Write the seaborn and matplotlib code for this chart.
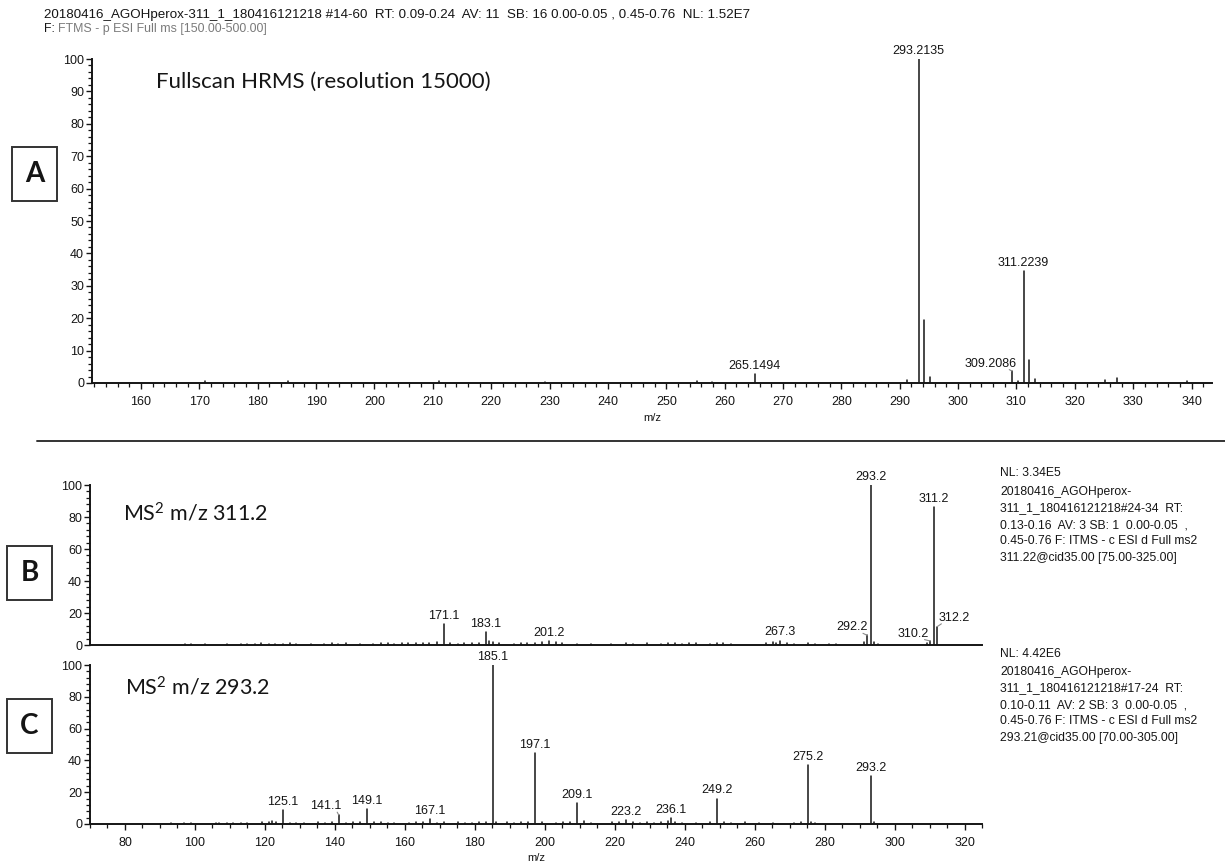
import numpy as np
import pandas as pd
import seaborn as sns
import matplotlib.pyplot as plt
from matplotlib.ticker import MultipleLocator
from matplotlib.patches import Rectangle
from matplotlib.lines import Line2D

# ======================== data ========================
# A: full scan HRMS, labelled peaks
a_mz = [265.1494, 293.2135, 309.2086, 311.2239]
a_int = [2.7, 100.0, 3.7, 34.6]
a_txt = ["265.1494", "293.2135", "309.2086", "311.2239"]
# A: unlabelled peaks
a_mz_other = [171.0, 185.1, 211.1, 229.2, 255.2, 257.9, 291.2, 294.2168, 295.2, 310.2,
              312.2273, 313.2, 325.2, 327.2, 339.2]
a_int_other = [0.6, 0.5, 0.5, 0.4, 0.5, 0.4, 0.8, 19.4, 1.8, 0.6,
               7.1, 1.2, 1.0, 1.6, 0.5]

# B: MS2 of m/z 311.2
b_mz = [171.1, 183.1, 201.2, 267.3, 292.2, 293.2, 310.2, 311.2, 312.2]
b_int = [13.0, 8.3, 2.6, 2.8, 6.0, 100.0, 2.5, 86.0, 11.5]
b_txt = ["171.1", "183.1", "201.2", "267.3", "292.2", "293.2", "310.2", "311.2", "312.2"]
b_mz_other = [97.1, 98.9, 103.0, 109.1, 113.1, 115.0, 117.1, 119.0, 121.1, 123.0,
              125.1, 127.1, 129.0, 133.1, 137.0, 139.1, 141.0, 143.1, 147.1, 151.0,
              153.1, 155.1, 157.0, 159.1, 161.0, 163.1, 165.1, 167.0, 169.1, 173.0,
              175.1, 177.0, 179.1, 181.1, 184.1, 185.1, 187.0, 191.1, 193.1, 195.0,
              197.1, 199.1, 203.1, 205.0, 209.1, 213.1, 219.0, 223.1, 225.1, 229.1,
              233.2, 235.1, 237.1, 239.2, 241.1, 243.1, 247.2, 249.2, 251.1, 253.2,
              263.2, 265.2, 266.2, 269.2, 271.2, 275.2, 277.2, 281.2, 283.2, 291.2,
              294.2, 295.2, 309.2]
b_int_other = [0.8, 0.7, 0.6, 0.7, 0.9, 0.8, 0.6, 1.0, 0.8, 0.7,
               0.9, 1.1, 0.7, 0.6, 0.9, 1.0, 0.8, 1.2, 0.9, 0.7,
               1.1, 1.3, 0.9, 1.4, 1.0, 1.2, 1.5, 1.3, 1.8, 1.1,
               0.9, 1.2, 1.0, 1.4, 2.6, 2.0, 1.1, 0.8, 1.2, 1.5,
               1.3, 1.6, 1.9, 1.2, 0.9, 0.7, 0.8, 1.1, 0.9, 1.0,
               0.8, 1.2, 1.0, 0.9, 1.3, 1.1, 0.9, 1.0, 1.2, 0.8,
               1.3, 1.6, 1.1, 1.4, 0.9, 1.2, 0.8, 0.7, 0.9, 1.8,
               1.6, 0.9, 1.0]

# C: MS2 of m/z 293.2
c_mz = [125.1, 141.1, 149.1, 167.1, 185.1, 197.1, 209.1, 223.2, 236.1, 249.2, 275.2, 293.2]
c_int = [9.0, 5.7, 9.2, 3.0, 100.0, 44.7, 13.0, 2.5, 4.0, 16.0, 37.0, 30.0]
c_txt = ["125.1", "141.1", "149.1", "167.1", "185.1", "197.1", "209.1", "223.2",
         "236.1", "249.2", "275.2", "293.2"]
c_mz_other = [93.1, 97.0, 98.9, 106.1, 107.0, 109.1, 111.0, 113.1, 115.0, 119.1,
              121.1, 122.1, 123.1, 127.1, 129.0, 131.1, 135.1, 137.1, 139.1, 143.1,
              145.1, 147.1, 151.1, 153.1, 155.1, 157.0, 161.1, 163.1, 165.1, 169.1,
              171.1, 175.1, 177.1, 179.1, 181.1, 183.1, 186.1, 189.1, 191.1, 193.1,
              195.1, 199.1, 203.1, 205.1, 207.1, 211.1, 213.1, 219.1, 221.1, 225.1,
              227.1, 229.1, 231.1, 233.1, 235.1, 237.1, 239.1, 243.1, 247.2, 251.2,
              253.2, 257.2, 261.2, 265.2, 271.2, 273.2, 276.2, 277.2, 294.2]
c_int_other = [0.6, 0.9, 0.7, 0.8, 0.7, 0.6, 0.8, 0.7, 0.6, 1.0,
               1.4, 1.6, 1.2, 0.9, 0.8, 0.7, 1.0, 0.9, 1.1, 0.8,
               1.0, 1.3, 1.2, 1.0, 0.8, 0.7, 0.9, 1.1, 1.4, 0.8,
               1.0, 1.2, 0.9, 0.8, 1.1, 1.3, 1.5, 1.0, 0.9, 1.2,
               1.1, 1.0, 0.8, 1.0, 1.2, 1.8, 0.9, 1.1, 1.0, 1.2,
               0.9, 1.0, 0.8, 1.1, 1.6, 1.3, 0.8, 0.9, 1.5, 1.1,
               0.8, 1.0, 0.7, 0.8, 0.9, 1.2, 1.4, 0.9, 1.1]

# ======================== style ========================
sns.set_theme(style="ticks")
plt.rcParams["font.family"] = ["Liberation Sans", "DejaVu Sans"]
plt.rcParams["mathtext.fontset"] = "custom"
plt.rcParams["mathtext.rm"] = "Lato"
plt.rcParams["mathtext.it"] = "Lato:italic"

INK = "#151515"
LAB_FS = 9.0
TICK_FS = 9.0
INFO_FS = 8.7
TITLE_FONT = "Lato"

# label shifts (points) for peaks that use a leader line
LEADERS = {
    "309.2086": (-15, 1),
    "292.2": (-11, 1.5),
    "310.2": (-12, 1),
    "312.2": (12, 2),
    "141.1": (-9, 2),
}

W, H = 1225, 867
fig = plt.figure(figsize=(W / 100, H / 100), dpi=100)


def px_axes(x0, x1, y_top, y_bot):
    return fig.add_axes([x0 / W, 1 - y_bot / H, (x1 - x0) / W, (y_bot - y_top) / H])


def draw_peaks(ax, mz, inten):
    n = len(mz)
    df = pd.DataFrame({
        "mz": np.repeat(mz, 2),
        "rel": np.column_stack([np.zeros(n), inten]).ravel(),
        "peak": np.repeat(np.arange(n), 2),
    })
    sns.lineplot(data=df, x="mz", y="rel", units="peak", estimator=None, sort=False,
                 color=INK, lw=1.1, ax=ax, legend=False)


def label_peaks(ax, mz, inten, texts):
    for m, h, t in zip(mz, inten, texts):
        if t in LEADERS:
            dx, dy = LEADERS[t]
            ax.annotate(t, (m, h), xytext=(dx, dy), textcoords="offset points",
                        ha="center", va="bottom", fontsize=LAB_FS, color=INK,
                        annotation_clip=False,
                        arrowprops=dict(arrowstyle="-", color="#8a8a8a", lw=0.8,
                                        shrinkA=0, shrinkB=0,
                                        relpos=(0.85, 0.0) if dx < 0 else (0.1, 0.0)))
        else:
            ax.annotate(t, (m, h), xytext=(0, 1.5), textcoords="offset points",
                        ha="center", va="bottom", fontsize=LAB_FS, color=INK,
                        annotation_clip=False)


def style_axis(ax, xmaj, xmin, ymaj, ymin, xlim):
    ax.set_xlim(*xlim)
    ax.set_ylim(0, 100)
    ax.xaxis.set_major_locator(MultipleLocator(xmaj))
    ax.xaxis.set_minor_locator(MultipleLocator(xmin))
    ax.yaxis.set_major_locator(MultipleLocator(ymaj))
    ax.yaxis.set_minor_locator(MultipleLocator(ymin))
    ax.tick_params(which="major", length=4.2, width=1.0, color=INK, labelsize=TICK_FS,
                   labelcolor=INK, pad=1.5)
    ax.tick_params(which="minor", length=3.0, width=0.9, color=INK)
    ax.tick_params(axis="x", which="major", pad=5)
    for s in ("left", "bottom"):
        ax.spines[s].set_linewidth(1.4)
        ax.spines[s].set_color(INK)
    sns.despine(ax=ax)
    ax.set_ylabel("")
    ax.set_xlabel("")
    ax.set_facecolor("white")


# ======================== panel A ========================
axA = px_axes(92, 1212, 59, 383)
draw_peaks(axA, a_mz + a_mz_other, a_int + a_int_other)
style_axis(axA, 10, 2, 10, 2, (151.6, 343.5))
label_peaks(axA, a_mz, a_int, a_txt)
axA.set_xlabel("m/z", fontsize=8, labelpad=4, color=INK)
axA.text(162.5, 93, "Fullscan HRMS (resolution 15000)", family=TITLE_FONT,
         fontsize=16, va="center", ha="left", color=INK)

# ======================== panel B ========================
axB = px_axes(90, 982, 485, 645)
draw_peaks(axB, b_mz + b_mz_other, b_int + b_int_other)
style_axis(axB, 20, 5, 20, 4, (70, 325))
axB.tick_params(axis="x", which="both", bottom=False, labelbottom=False)
label_peaks(axB, b_mz, b_int, b_txt)
axB.text(79.4, 82.5, r"MS$^{\mathregular{2}}$ m/z 311.2", family=TITLE_FONT,
         fontsize=15.5, va="center", ha="left", color=INK)

# ======================== panel C ========================
axC = px_axes(90, 982, 665, 824)
draw_peaks(axC, c_mz + c_mz_other, c_int + c_int_other)
style_axis(axC, 20, 5, 20, 4, (70, 325))
label_peaks(axC, c_mz, c_int, c_txt)
axC.set_xlabel("m/z", fontsize=8, labelpad=3, color=INK)
axC.text(80, 86, r"MS$^{\mathregular{2}}$ m/z 293.2", family=TITLE_FONT,
         fontsize=15.5, va="center", ha="left", color=INK)

# ======================== header / side notes ========================
fig.text(44 / W, 1 - 15 / H,
         "20180416_AGOHperox-311_1_180416121218 #14-60  RT: 0.09-0.24  AV: 11  "
         "SB: 16 0.00-0.05 , 0.45-0.76  NL: 1.52E7",
         fontsize=9.6, va="center", ha="left", color=INK)
f_lab = fig.text(44 / W, 1 - 29 / H, "F:", fontsize=8.9, va="center", ha="left", color=INK)
axA.annotate("FTMS - p ESI Full ms [150.00-500.00]", xy=(1, 0.5), xycoords=f_lab,
             xytext=(2.5, 0), textcoords="offset points", fontsize=8.9, va="center",
             ha="left", color="#7a7a7a", annotation_clip=False)

fig.text(1000 / W, 1 - 473 / H, "NL: 3.34E5", fontsize=INFO_FS, va="center", ha="left", color=INK)
fig.text(1000 / W, 1 - 486 / H,
         "20180416_AGOHperox-\n311_1_180416121218#24-34  RT:\n0.13-0.16  AV: 3 SB: 1  0.00-0.05  ,\n"
         "0.45-0.76 F: ITMS - c ESI d Full ms2\n311.22@cid35.00 [75.00-325.00]",
         fontsize=INFO_FS, va="top", ha="left", linespacing=1.5, color=INK)
fig.text(1000 / W, 1 - 654 / H, "NL: 4.42E6", fontsize=INFO_FS, va="center", ha="left", color=INK)
fig.text(1000 / W, 1 - 666 / H,
         "20180416_AGOHperox-\n311_1_180416121218#17-24  RT:\n0.10-0.11  AV: 2 SB: 3  0.00-0.05  ,\n"
         "0.45-0.76 F: ITMS - c ESI d Full ms2\n293.21@cid35.00 [70.00-305.00]",
         fontsize=INFO_FS, va="top", ha="left", linespacing=1.5, color=INK)

# separator between full scan and MS2 panels
fig.add_artist(Line2D([37 / W, 1.0], [1 - 441 / H, 1 - 441 / H], transform=fig.transFigure,
                      color="#333333", lw=1.4))

# panel letter boxes
for letter, (x0, x1, y0, y1) in {"A": (12, 57, 147, 201),
                                 "B": (7, 52, 546, 600),
                                 "C": (7, 52, 699, 753)}.items():
    fig.add_artist(Rectangle((x0 / W, 1 - y1 / H), (x1 - x0) / W, (y1 - y0) / H,
                             transform=fig.transFigure, fill=False, ec="#333333", lw=1.4))
    fig.text((x0 + x1) / 2 / W, 1 - (y0 + y1) / 2 / H, letter, family=TITLE_FONT,
             fontweight="bold", fontsize=20, ha="center", va="center", color=INK)

fig.savefig("out.png", dpi=100, facecolor="white")
